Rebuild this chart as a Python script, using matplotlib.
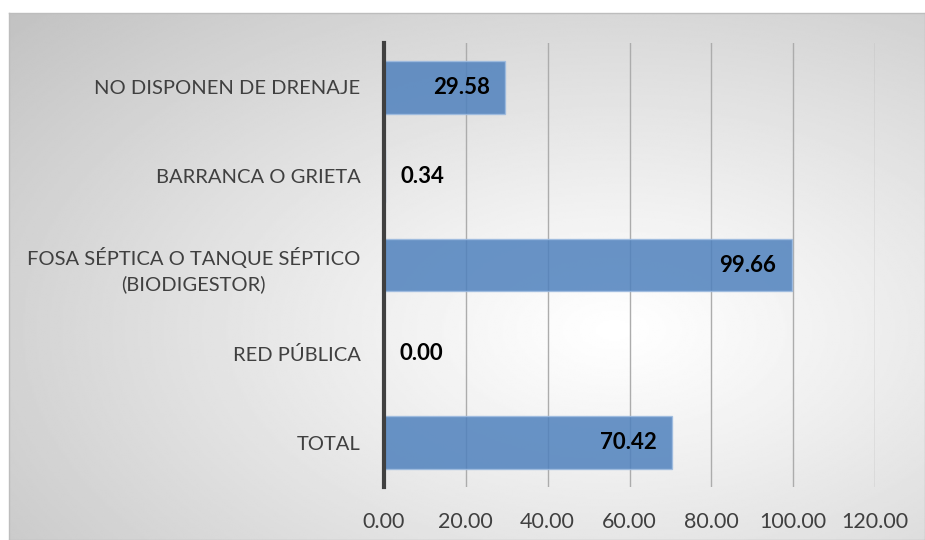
import numpy as np
import matplotlib
matplotlib.use("Agg")
import matplotlib.pyplot as plt

categories = ["TOTAL", "RED PÚBLICA", "FOSA SÉPTICA O TANQUE SÉPTICO\n(BIODIGESTOR)",
              "BARRANCA O GRIETA", "NO DISPONEN DE DRENAJE"]
values = [70.42, 0.00, 99.66, 0.34, 29.58]
xticks = [0, 20, 40, 60, 80, 100, 120]

W, H = 925, 540
fig = plt.figure(figsize=(W / 100, H / 100), dpi=100)
fig.patch.set_facecolor("white")

# background chart area with radial gradient
bx0, by0, bx1, by1 = 9, 13, 925, 540
bg = fig.add_axes([bx0 / W, 1 - by1 / H, (bx1 - bx0) / W, (by1 - by0) / H], zorder=-2)
ny, nx = 300, 500
yy, xx = np.mgrid[0:ny, 0:nx]
cx, cy = nx * 0.66, ny * 0.6
d = np.sqrt(((xx - cx) / nx) ** 2 + ((yy - cy) / ny) ** 2)
d = d / d.max()
light, dark = 1.0, 0.76
g = light - (light - dark) * np.clip(d, 0, 1) ** 1.1
bg.imshow(g, cmap="gray", vmin=0, vmax=1, aspect="auto", extent=[0, 1, 0, 1], interpolation="bilinear")
bg.set_xticks([]); bg.set_yticks([])
for s in bg.spines.values():
    s.set_color("#bdbdbd"); s.set_linewidth(1)

font = ["Lato", "DejaVu Sans"]
ax = fig.add_axes([384 / W, 53 / H, 491 / W, 444 / H])
ax.set_facecolor("none")
y = np.arange(len(categories))
bars = ax.barh(y, values, height=0.59, color="#4f81bd", alpha=0.85,
               edgecolor="#9dbbe0", linewidth=1, zorder=2)
ax.set_xlim(0, 120)
ax.set_ylim(-0.5, len(categories) - 0.5)
ax.set_xticks(xticks)
ax.set_xticklabels([f"{v:.2f}" for v in xticks], fontsize=15.5, color="#404040", family=font)
ax.set_yticks(y)
ax.set_yticklabels(categories, fontsize=14.5, color="#404040", family=font,
                   multialignment="center", linespacing=1.5)
ax.tick_params(axis="both", length=0)
ax.tick_params(axis="y", pad=17)
ax.tick_params(axis="x", pad=18)
ax.grid(axis="x", color="#acacac", linewidth=1, zorder=1)
ax.set_axisbelow(True)
for s in ["top", "right", "bottom"]:
    ax.spines[s].set_visible(False)
ax.spines["left"].set_color("#404040")
ax.spines["left"].set_linewidth(3)
ax.spines["left"].set_zorder(3)

for yi, v in zip(y, values):
    if v > 10:
        ax.annotate(f"{v:.2f}", (v, yi), xytext=(-11, 0), textcoords="offset points",
                    ha="right", va="center", fontsize=16, fontweight="bold", color="black",
                    family=font, zorder=4)
    else:
        ax.annotate(f"{v:.2f}", (v, yi), xytext=(11, 0), textcoords="offset points",
                    ha="left", va="center", fontsize=16, fontweight="bold", color="black",
                    family=font, zorder=4)

fig.savefig("out.png", dpi=100)
